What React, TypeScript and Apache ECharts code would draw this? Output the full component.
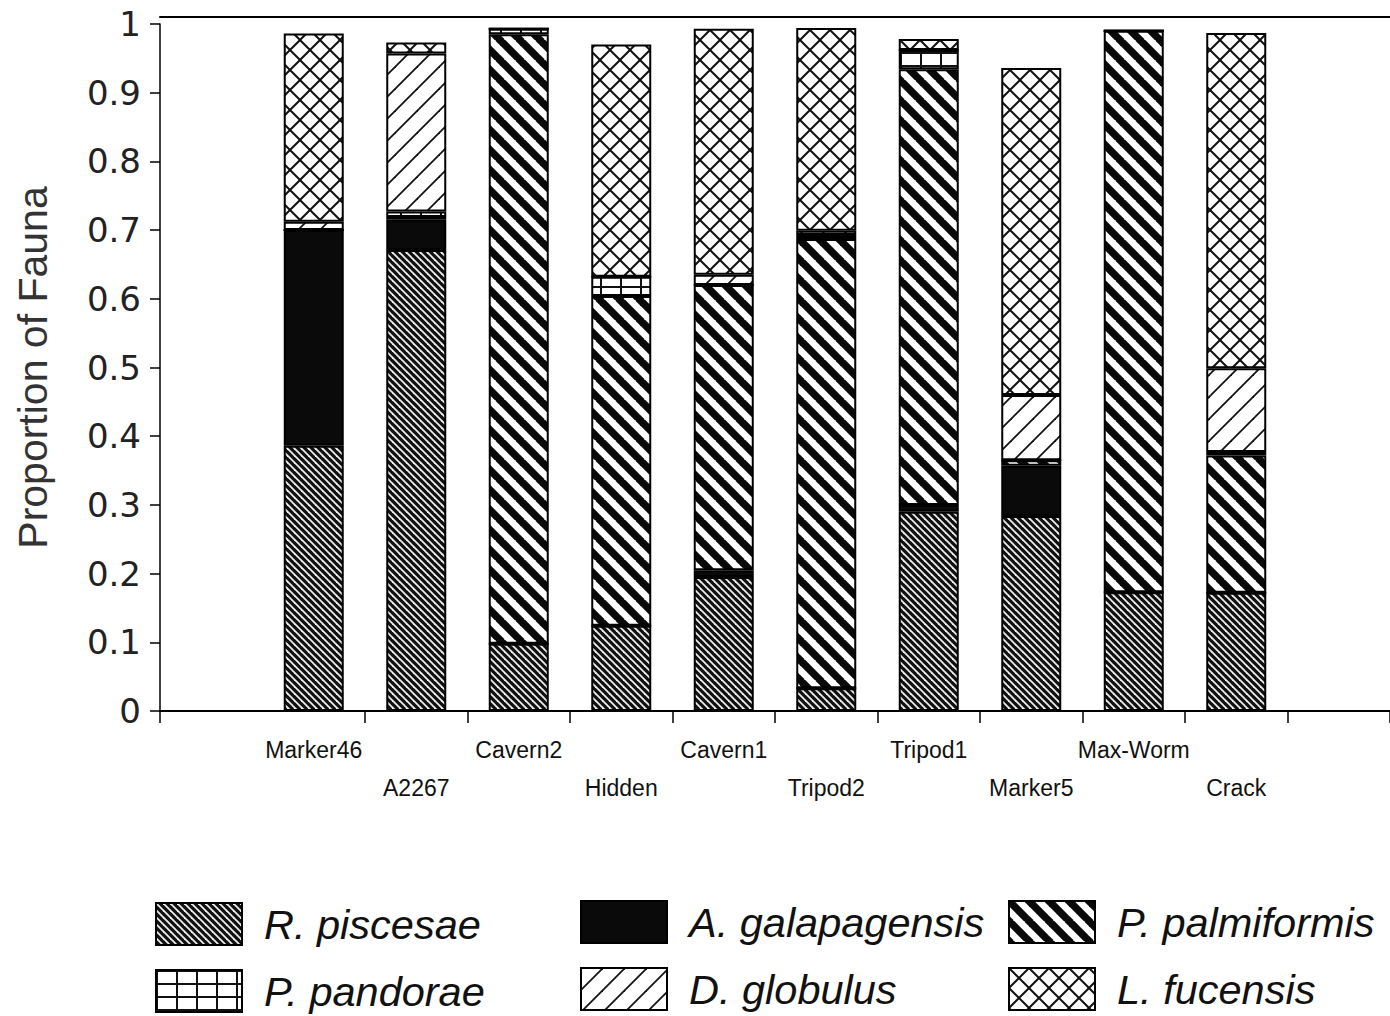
import React, { useEffect, useRef } from 'react';
import * as echarts from 'echarts';

const sites = ['', 'Marker46', 'A2267', 'Cavern2', 'Hidden', 'Cavern1', 'Tripod2', 'Tripod1', 'Marker5', 'Max-Worm', 'Crack', ''];
const rPiscesae = [null, 0.386, 0.671, 0.098, 0.124, 0.195, 0.033, 0.29, 0.284, 0.173, 0.172, null];
const aGalapagensis = [null, 0.314, 0.044, 0, 0, 0.01, 0, 0.01, 0.073, 0, 0, null];
const pPalmiformis = [null, 0, 0.004, 0.887, 0.48, 0.415, 0.654, 0.634, 0.008, 0.817, 0.2, null];
const pPandorae = [null, 0, 0.008, 0.008, 0.028, 0, 0.006, 0.028, 0, 0, 0.005, null];
const dGlobulus = [null, 0.012, 0.23, 0, 0, 0.015, 0.006, 0, 0.095, 0, 0.122, null];
const lFucensis = [null, 0.274, 0.016, 0, 0.338, 0.358, 0.295, 0.016, 0.476, 0, 0.488, null];
const speciesNames = ['R. piscesae', 'A. galapagensis', 'P. palmiformis', 'P. pandorae', 'D. globulus', 'L. fucensis'];

function tile(w: number, h: number, draw: (ctx: CanvasRenderingContext2D) => void) {
  const c = document.createElement('canvas');
  c.width = w;
  c.height = h;
  const ctx = c.getContext('2d') as CanvasRenderingContext2D;
  ctx.fillStyle = '#fff';
  ctx.fillRect(0, 0, w, h);
  draw(ctx);
  return { image: c, repeat: 'repeat', imageWidth: w, imageHeight: h } as any;
}

function diag(ctx: CanvasRenderingContext2D, p: number, back: boolean) {
  for (let k = -1; k <= 1; k++) {
    ctx.beginPath();
    if (back) {
      ctx.moveTo(k * p - 2, -2);
      ctx.lineTo(k * p + p + 2, p + 2);
    } else {
      ctx.moveTo(k * p - 2, p + 2);
      ctx.lineTo(k * p + p + 2, -2);
    }
    ctx.stroke();
  }
}

function makePatterns() {
  const rp = tile(7, 7, (ctx) => {
    ctx.fillStyle = '#111';
    ctx.fillRect(0, 0, 7, 7);
    ctx.strokeStyle = '#eee';
    ctx.lineWidth = 1.8;
    diag(ctx, 7, true);
  });
  const ag = '#0a0a0a';
  const pp = tile(20, 20, (ctx) => {
    ctx.strokeStyle = '#0a0a0a';
    ctx.lineWidth = 7.5;
    diag(ctx, 20, true);
  });
  const pd = tile(20, 13, (ctx) => {
    ctx.fillStyle = '#111';
    ctx.fillRect(0, 0, 20, 2);
    ctx.fillRect(0, 0, 2, 13);
  });
  const dg = tile(22, 22, (ctx) => {
    ctx.strokeStyle = '#111';
    ctx.lineWidth = 1.8;
    diag(ctx, 22, false);
  });
  const lf = tile(20, 20, (ctx) => {
    ctx.strokeStyle = '#111';
    ctx.lineWidth = 2;
    diag(ctx, 20, true);
    diag(ctx, 20, false);
  });
  return [rp, ag, pp, pd, dg, lf];
}

export default function App() {
  const ref = useRef<HTMLDivElement>(null);
  useEffect(() => {
    if (!ref.current) return;
    const chart = echarts.init(ref.current, null, { renderer: 'svg' });
    const patterns = makePatterns();
    const seriesData = [rPiscesae, aGalapagensis, pPalmiformis, pPandorae, dGlobulus, lFucensis];
    const legendText = {
      fontFamily: 'Liberation Sans, Arial, sans-serif',
      fontStyle: 'italic',
      fontSize: 41.5,
      lineHeight: 42,
      color: '#111',
      padding: [0, 0, 0, 17],
    };
    const legendCommon = {
      orient: 'vertical',
      itemWidth: 86,
      itemHeight: 42,
      itemGap: 23,
      icon: 'rect',
      padding: 0,
      height: 140,
      selectedMode: false,
      textStyle: legendText,
      itemStyle: { borderColor: '#000', borderWidth: 2 },
    };
    chart.setOption({
      animation: false,
      backgroundColor: '#fff',
      grid: { left: 160, right: 0, top: 24, bottom: 305, containLabel: false, outerBoundsMode: 'none' },
      legend: [
        { ...legendCommon, data: ['R. piscesae', 'P. pandorae'], left: 155, top: 902 },
        { ...legendCommon, data: ['A. galapagensis', 'D. globulus'], left: 580, top: 900 },
        { ...legendCommon, data: ['P. palmiformis', 'L. fucensis'], left: 1008, top: 900 },
      ],
      xAxis: [
        {
          type: 'category',
          data: sites,
          position: 'bottom',
          axisLine: { lineStyle: { color: '#000', width: 2 } },
          axisTick: {
            show: true,
            length: 12,
            interval: (i: number) => i !== 1,
            lineStyle: { color: '#000', width: 1.5 },
          },
          axisLabel: {
            interval: 0,
            formatter: (v: string, i: number) => (i % 2 === 0 ? '\n' + v : v),
            lineHeight: 38,
            margin: 20,
            fontSize: 23,
            fontFamily: 'Liberation Sans, Arial, sans-serif',
            color: '#111',
          },
        },
        {
          type: 'category',
          data: sites,
          position: 'top',
          offset: 7,
          axisLine: { lineStyle: { color: '#000', width: 2 } },
          axisTick: { show: false },
          axisLabel: { show: false },
        },
      ],
      yAxis: {
        type: 'value',
        min: 0,
        max: 1,
        interval: 0.1,
        axisLine: { show: true, lineStyle: { color: '#000', width: 1.5 } },
        axisTick: { show: true, length: 10, lineStyle: { color: '#000', width: 1.5 } },
        splitLine: { show: false },
        axisLabel: { fontSize: 34, fontFamily: 'DejaVu Sans, sans-serif', color: '#222', margin: 19 },
        name: 'Proportion of Fauna',
        nameLocation: 'middle',
        nameGap: 107,
        nameRotate: 90,
        nameTextStyle: { fontSize: 41, fontFamily: 'Liberation Sans, Arial, sans-serif', color: '#333' },
      },
      series: speciesNames.map((name, idx) => ({
        name,
        type: 'bar',
        stack: 'total',
        barWidth: 60,
        data: seriesData[idx],
        itemStyle: { color: patterns[idx], borderColor: '#000', borderWidth: 2 },
        emphasis: { disabled: true },
      })),
    });
    return () => chart.dispose();
  }, []);
  return (
    <div
      ref={ref}
      style={{ position: 'absolute', left: 0, top: 0, width: 1390, height: 1016, background: '#fff' }}
    />
  );
}
